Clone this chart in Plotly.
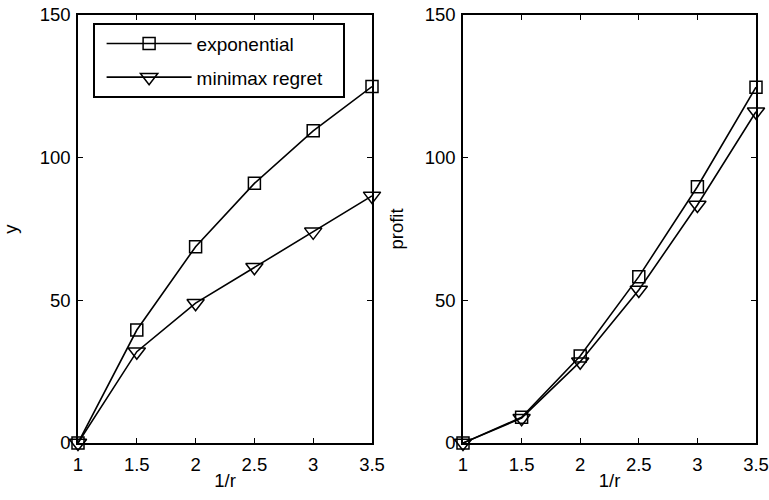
import plotly.graph_objects as go

# Values of 1/r along the horizontal axis
inv_r = [1, 1.5, 2, 2.5, 3, 3.5]

# Left panel: y
y_exponential = [0, 39.6, 68.8, 91, 109.4, 124.9]
y_minimax = [0, 32, 49, 61.6, 74, 86.6]

# Right panel: profit
profit_exponential = [0, 9, 30.5, 58.3, 89.8, 124.7]
profit_minimax = [0, 8.7, 28.5, 53.6, 83.4, 116.1]

x_ticks = [1, 1.5, 2, 2.5, 3, 3.5]
x_tick_text = ["1", "1.5", "2", "2.5", "3", "3.5"]
y_ticks = [0, 50, 100, 150]

FONT = "Liberation Sans, Arial, sans-serif"
BLACK = "#000000"
TICK_SIZE = 18.5

fig = go.Figure()

sq = dict(symbol="square-open", size=12, color=BLACK, line=dict(width=1.5, color=BLACK))
tri = dict(symbol="triangle-down-open", size=15, color=BLACK, line=dict(width=1.5, color=BLACK))
ln = dict(color=BLACK, width=1.6)
pad = "\u00a0" * 3

fig.add_trace(go.Scatter(x=inv_r, y=y_exponential, mode="lines+markers", name="exponential" + pad,
                         legendgroup="a", marker=sq, line=ln, cliponaxis=False,
                         xaxis="x", yaxis="y"))
fig.add_trace(go.Scatter(x=inv_r, y=y_minimax, mode="lines+markers", name="minimax regret" + pad,
                         legendgroup="b", marker=tri, line=ln, cliponaxis=False,
                         xaxis="x", yaxis="y"))
fig.add_trace(go.Scatter(x=inv_r, y=profit_exponential, mode="lines+markers", showlegend=False,
                         marker=sq, line=ln, cliponaxis=False, xaxis="x2", yaxis="y2"))
fig.add_trace(go.Scatter(x=inv_r, y=profit_minimax, mode="lines+markers", showlegend=False,
                         marker=tri, line=ln, cliponaxis=False, xaxis="x2", yaxis="y2"))

W, H = 769, 500
y_dom = [(H - 443) / H, (H - 15) / H]

def xaxis(dom, anchor):
    return dict(domain=dom, anchor=anchor, range=[1, 3.5], tickvals=x_ticks, ticktext=x_tick_text,
                ticks="inside", ticklen=5, tickcolor=BLACK, tickwidth=1,
                showline=True, linecolor=BLACK, linewidth=1.6, mirror="ticks",
                showgrid=False, zeroline=False, ticklabelstandoff=4, automargin=False,
                title=dict(text="1/r", font=dict(size=TICK_SIZE, color=BLACK, family=FONT), standoff=0),
                tickfont=dict(size=TICK_SIZE, color=BLACK, family=FONT))

def yaxis(anchor, title, standoff):
    return dict(domain=y_dom, anchor=anchor, range=[0, 150], tickvals=y_ticks,
                ticks="inside", ticklen=5, tickcolor=BLACK, tickwidth=1,
                showline=True, linecolor=BLACK, linewidth=1.6, mirror="ticks",
                showgrid=False, zeroline=False, ticklabelstandoff=2, automargin=False,
                title=dict(text=title, font=dict(size=TICK_SIZE, color=BLACK, family=FONT), standoff=standoff),
                tickfont=dict(size=TICK_SIZE, color=BLACK, family=FONT))

fig.update_layout(
    width=W, height=H,
    margin=dict(l=0, r=0, t=0, b=0, autoexpand=False),
    paper_bgcolor="white", plot_bgcolor="white",
    font=dict(family=FONT, color=BLACK, size=TICK_SIZE),
    xaxis=xaxis([78 / W, 372 / W], "y"),
    yaxis=yaxis("x", "y", 26),
    xaxis2=xaxis([463 / W, 756 / W], "y2"),
    yaxis2=yaxis("x2", "profit", 16),
    showlegend=True,
    legend=dict(x=93 / W, y=(H - 23) / H, xanchor="left", yanchor="top",
                bordercolor=BLACK, borderwidth=1.6, bgcolor="white",
                font=dict(size=19, color=BLACK, family=FONT),
                itemwidth=85, tracegroupgap=6, indentation=7),
)

fig.write_html("out.html")
